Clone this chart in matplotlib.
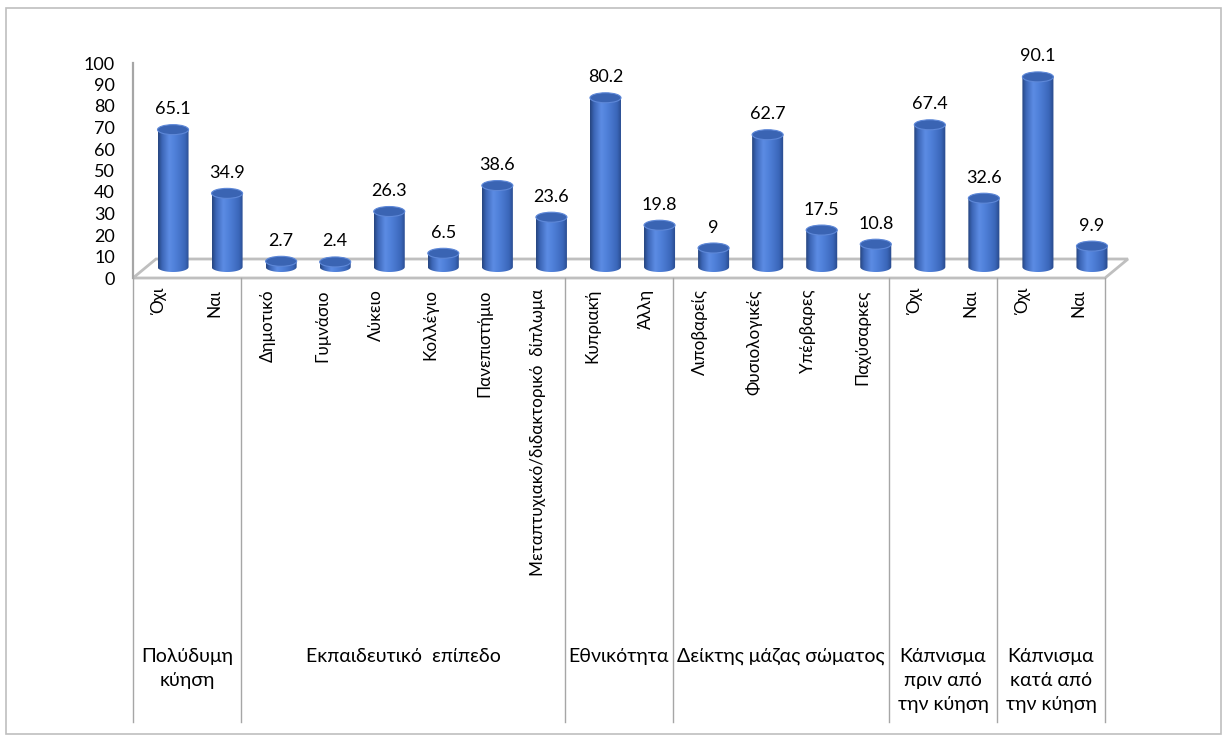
import numpy as np
import matplotlib
matplotlib.use("Agg")
import matplotlib.pyplot as plt
from matplotlib.patches import Ellipse, PathPatch, Rectangle, Polygon
from matplotlib.path import Path
from matplotlib.colors import LinearSegmentedColormap

# ---------------- data ----------------
categories = ["Όχι", "Ναι",
              "Δημοτικό", "Γυμνάσιο", "Λύκειο", "Κολλέγιο", "Πανεπιστήμιο",
              "Μεταπτυχιακό/διδακτορικό  δίπλωμα",
              "Κυπριακή", "Άλλη",
              "Λιποβαρείς", "Φυσιολογικές", "Υπέρβαρες", "Παχύσαρκες",
              "Όχι", "Ναι",
              "Όχι", "Ναι"]
values = [65.1, 34.9, 2.7, 2.4, 26.3, 6.5, 38.6, 23.6, 80.2, 19.8,
          9, 62.7, 17.5, 10.8, 67.4, 32.6, 90.1, 9.9]
group_labels = ["Πολύδυμη\nκύηση", "Εκπαιδευτικό  επίπεδο", "Εθνικότητα",
                "Δείκτης μάζας σώματος", "Κάπνισμα\nπριν από\nτην κύηση",
                "Κάπνισμα\nκατά από\nτην κύηση"]
group_sizes = [2, 6, 2, 4, 2, 2]
yticks = list(range(0, 101, 10))

plt.rcParams['font.family'] = ['Lato', 'Noto Sans', 'DejaVu Sans']
FS = 13
FS_CAT = 12.3
FS_GRP = 14

W, H = 1224, 736
fig = plt.figure(figsize=(W / 100, H / 100), dpi=100)


def fig_box(x0, x1, ytop, ybot):
    return [x0 / W, 1 - ybot / H, (x1 - x0) / W, (ybot - ytop) / H]


# main (front-plane) axes
AX_TOP, AX_BOT = 63, 278
ax = fig.add_axes(fig_box(133, 1105, AX_TOP, AX_BOT))
ax.set_xlim(-0.5, len(values) - 0.5)
ax.set_ylim(0, 100)
ax.patch.set_alpha(0)
for s in ['top', 'right', 'bottom']:
    ax.spines[s].set_visible(False)
ax.spines['left'].set_color('#A6A6A6')
ax.spines['left'].set_linewidth(1.6)
ax.set_yticks(yticks)
ax.set_yticklabels([str(t) for t in yticks], fontsize=FS)
ax.tick_params(axis='y', length=0, pad=13)
ax.set_xticks(range(len(categories)))
ax.set_xticklabels(categories, rotation=90, fontsize=FS_CAT, va='top', ha='center')
ax.tick_params(axis='x', length=0, pad=8)


def yfrac(p):
    return (AX_BOT - p) / (AX_BOT - AX_TOP)


# 3D floor
dx, dy = 23 / 54, 19 / 2.15
n = len(values)
floor = Polygon([(-0.5, 0), (n - 0.5, 0), (n - 0.5 + dx, dy), (-0.5 + dx, dy)],
                closed=True, facecolor='white', edgecolor='#BFBFBF', lw=2,
                clip_on=False, zorder=1)
ax.add_patch(floor)

# separators and group labels
bounds = np.concatenate([[0], np.cumsum(group_sizes)])
xt = ax.get_xaxis_transform()
for b in bounds:
    ax.plot([b - 0.5, b - 0.5], [yfrac(278), yfrac(722)], transform=xt,
            color='#A6A6A6', lw=1, clip_on=False)
for lab, s0, sz in zip(group_labels, bounds[:-1], group_sizes):
    ax.text(s0 + sz / 2 - 0.5, yfrac(648), lab, transform=xt, ha='center',
            va='top', fontsize=FS_GRP, linespacing=1.5, clip_on=False)

# bar plane axes
bx = fig.add_axes(fig_box(146, 1119, 267 - 2.11 * 110, 267 + 2.11 * 10))
bx.set_xlim(-0.5, n - 0.5)
bx.set_ylim(-10, 110)
bx.axis('off')
bx.patch.set_alpha(0)

cmap = LinearSegmentedColormap.from_list('cyl', [
    (0.0, '#26457F'), (0.12, '#3C66B6'), (0.35, '#5C8CE4'),
    (0.55, '#4E7FD8'), (0.85, '#3B67BA'), (1.0, '#27488A')])
grad = np.linspace(0, 1, 64).reshape(1, -1)

bw = 31 / 54
eh = 5.0 / 2.11  # ellipse semi-height in data units
t = np.linspace(np.pi, 2 * np.pi, 40)
for i, v in enumerate(values):
    x0, x1 = i - bw / 2, i + bw / 2
    top = v
    verts = [(x0, top), (x0, 0)]
    verts += list(zip(i + bw / 2 * np.cos(t), 0 + eh * np.sin(t)))
    verts += [(x1, 0), (x1, top), (x0, top)]
    clip = PathPatch(Path(verts), transform=bx.transData, facecolor='none',
                     edgecolor='none')
    bx.add_patch(clip)
    im = bx.imshow(grad, cmap=cmap, extent=[x0, x1, -eh, top], aspect='auto',
                   interpolation='bicubic', zorder=2)
    im.set_clip_path(clip)
    bx.add_patch(Ellipse((i, top), bw, 2 * eh, facecolor='#3A64B3',
                         edgecolor='#5E88D8', lw=0.8, zorder=3))
    bx.annotate(f"{v:g}", (i, top), xytext=(0, 9), textcoords='offset points',
                ha='center', va='bottom', fontsize=FS, zorder=4)

bx.set_xlim(-0.5, n - 0.5)
bx.set_ylim(-10, 110)

# outer border
fig.add_artist(Rectangle((6 / W, 1 - 734 / H), (1221 - 6) / W, (734 - 8) / H,
                         transform=fig.transFigure, fill=False,
                         edgecolor='#BFBFBF', lw=1.2))

fig.savefig('out.png', dpi=100)
